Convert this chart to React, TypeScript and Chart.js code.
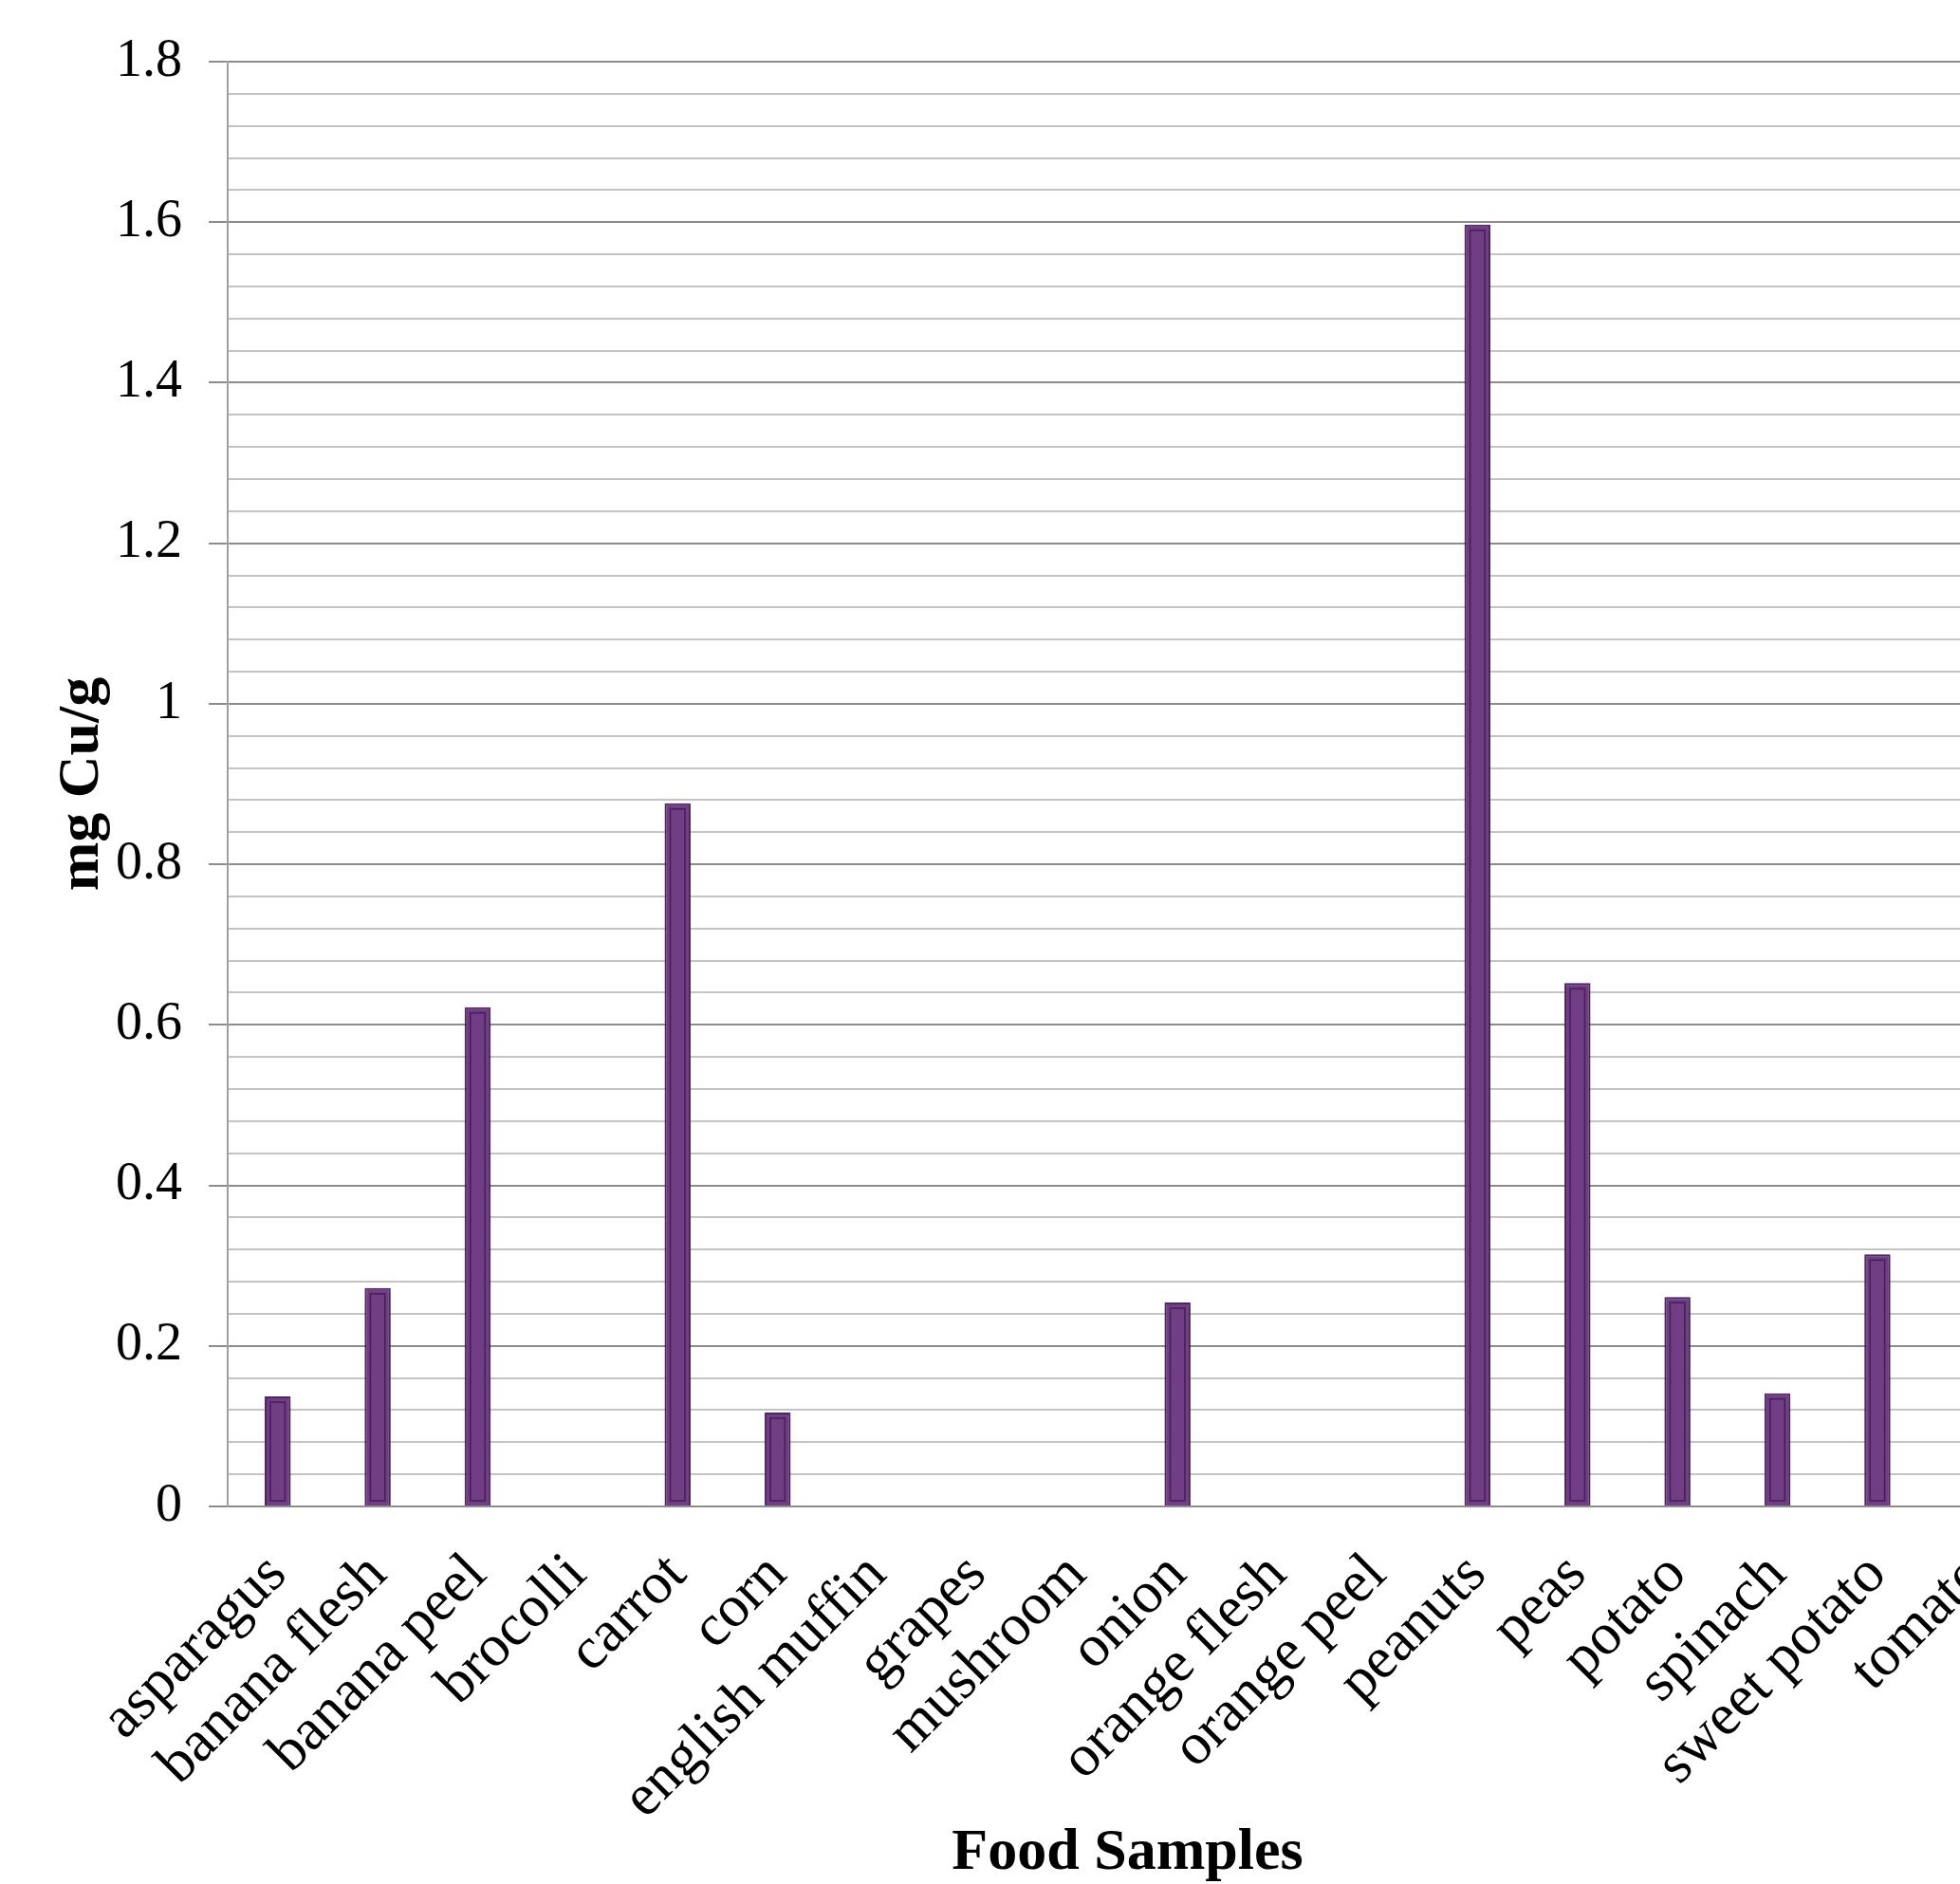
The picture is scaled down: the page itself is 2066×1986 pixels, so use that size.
import React, { useEffect, useRef } from "react";
import { Chart, registerables } from "chart.js";

Chart.register(...registerables);

const categories = [
  "asparagus",
  "banana flesh",
  "banana peel",
  "brocolli",
  "carrot",
  "corn",
  "english muffin",
  "grapes",
  "mushroom",
  "onion",
  "orange flesh",
  "orange peel",
  "peanuts",
  "peas",
  "potato",
  "spinach",
  "sweet potato",
  "tomato",
];

const copperValues = [
  0.137, 0.272, 0.622, 0, 0.876, 0.117, 0, 0, 0, 0.254, 0, 0, 1.597, 0.652,
  0.261, 0.141, 0.314, 0,
];

const yTickLabels = ["0", "0.2", "0.4", "0.6", "0.8", "1", "1.2", "1.4", "1.6", "1.8"];

const yTitle = "mg Cu/g";
const xTitle = "Food Samples";

const FONT = "'Liberation Serif', 'DejaVu Serif', serif";

function isMajor(v: number) {
  const r = v / 0.2;
  return Math.abs(r - Math.round(r)) < 1e-6;
}

const barDecor = {
  id: "barDecor",
  beforeDatasetsDraw(chart: any) {
    const ctx = chart.ctx;
    ctx.save();
    ctx.shadowColor = "rgba(0,0,0,0.35)";
    ctx.shadowBlur = 7;
    ctx.shadowOffsetX = 1;
    ctx.shadowOffsetY = 2;
  },
  afterDatasetsDraw(chart: any) {
    const ctx = chart.ctx;
    ctx.restore();
    const meta = chart.getDatasetMeta(0);
    ctx.save();
    ctx.strokeStyle = "#47205a";
    ctx.lineWidth = 1.6;
    meta.data.forEach((el: any, i: number) => {
      const v = copperValues[i];
      if (!v) return;
      const { x, y, base, width } = el.getProps(["x", "y", "base", "width"], true);
      const l = x - width / 2 + 6;
      const r = x + width / 2 - 6;
      const t = y + 6;
      const b = base - 5;
      if (b - t < 2) return;
      ctx.strokeRect(l, t, r - l, b - t);
    });
    ctx.restore();
  },
};

const CANVAS_W = 2177;

export default function App() {
  const canvasRef = useRef<HTMLCanvasElement | null>(null);

  useEffect(() => {
    document.body.style.margin = "0";
    document.body.style.overflow = "hidden";
    document.documentElement.style.overflow = "hidden";
    const canvas = canvasRef.current;
    if (!canvas) return;
    const chart = new Chart(canvas, {
      type: "bar",
      data: {
        labels: categories,
        datasets: [
          {
            data: copperValues,
            backgroundColor: "#713d85",
            borderColor: "#55286a",
            borderWidth: 2,
            barPercentage: 0.26,
            categoryPercentage: 1,
          },
        ],
      },
      plugins: [barDecor],
      options: {
        animation: false,
        responsive: false,
        devicePixelRatio: 1,
        layout: { padding: { top: 65, right: 40, bottom: 0, left: 0 } },
        plugins: {
          legend: { display: false },
          tooltip: { enabled: false },
        },
        scales: {
          x: {
            grid: { display: false, drawTicks: false },
            border: { display: true, color: "#8c8c8c", width: 2 },
            ticks: {
              autoSkip: false,
              minRotation: 45,
              maxRotation: 45,
              padding: 36,
              color: "#000",
              font: { family: FONT, size: 62 },
            },
            title: {
              display: true,
              text: xTitle,
              color: "#000",
              font: { family: FONT, size: 62, weight: "bold", lineHeight: 1 },
              padding: { top: 0, bottom: 1 },
            },
            afterFit: (scale: any) => {
              scale.height = 1986 - 1588;
            },
          },
          y: {
            min: 0,
            max: 1.8,
            grid: {
              color: (c: any) => (isMajor(c.tick.value) ? "#8c8c8c" : "#c4c4c4"),
              tickColor: (c: any) => (isMajor(c.tick.value) ? "#8c8c8c" : "rgba(0,0,0,0)"),
              lineWidth: 2,
              tickLength: 20,
            },
            border: { display: true, color: "#a0a0a0", width: 2 },
            ticks: {
              stepSize: 0.04,
              autoSkip: false,
              padding: 28,
              color: "#000",
              font: { family: FONT, size: 56 },
              callback: (v: any, i: number) => (i % 5 === 0 ? yTickLabels[i / 5] : ""),
            },
            title: {
              display: true,
              text: yTitle,
              color: "#000",
              font: { family: FONT, size: 62, weight: "bold", lineHeight: 1 },
              padding: { top: 56, bottom: 0 },
            },
            afterFit: (scale: any) => {
              scale.width = 240;
            },
          },
        },
      },
    });
    return () => chart.destroy();
  }, []);

  return (
    <div style={{ width: 2066, height: 1986, overflow: "hidden", background: "#fff", position: "relative" }}>
      <canvas ref={canvasRef} width={CANVAS_W} height={1986} style={{ width: CANVAS_W, height: 1986, display: "block" }} />
    </div>
  );
}
